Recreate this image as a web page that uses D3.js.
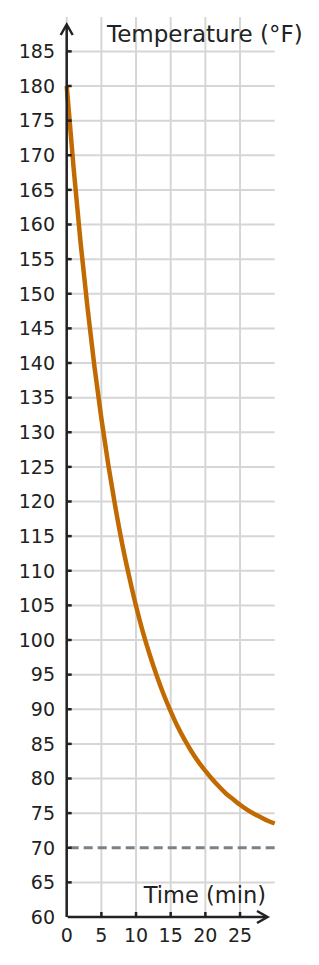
<!DOCTYPE html>
<html><head><meta charset="utf-8">
<script src="https://cdn.jsdelivr.net/npm/d3@7"></script>
<style>html,body{margin:0;padding:0;background:#fff;}svg{display:block;font-family:"DejaVu Sans",sans-serif;}</style>
</head><body>
<script>
const times = [0,1,2,3,4,5,6,7,8,9,10,11,12,13,14,15,16,17,18,19,20,21,22,23,24,25,26,27,28,29,30];
const temps = [180,168.1,157.4,148.0,139.5,132.0,125.3,119.3,113.9,109.2,104.9,101.1,97.8,94.8,92.1,89.7,87.5,85.6,83.9,82.4,81.1,79.9,78.8,77.8,77.0,76.2,75.5,74.9,74.4,73.9,73.5];
const ambient = 70;
const yTicks = [60,65,70,75,80,85,90,95,100,105,110,115,120,125,130,135,140,145,150,155,160,165,170,175,180,185];
const xTicks = [0,5,10,15,20,25];
const xTitle = "Time (min)";
const yTitle = "Temperature (°F)";

const W = 319, H = 965;
const svg = d3.select("body").append("svg").attr("width", W).attr("height", H);
const x = d3.scaleLinear().domain([0,30]).range([66.7,274.7]);
const y = d3.scaleLinear().domain([60,180]).range([917,86]);

const grid = svg.append("g").attr("stroke","#d6d6d6").attr("stroke-width",2);
grid.selectAll("line.v").data(xTicks).join("line")
  .attr("x1",d=>x(d)).attr("x2",d=>x(d)).attr("y1",17).attr("y2",y(60));
grid.selectAll("line.h").data(yTicks.filter(d=>d!==60 && d!==ambient)).join("line")
  .attr("x1",x(0)).attr("x2",x(30)).attr("y1",d=>y(d)).attr("y2",d=>y(d));

svg.append("line").attr("x1",x(0)+3).attr("x2",x(30)).attr("y1",y(ambient)).attr("y2",y(ambient))
  .attr("stroke","#78828a").attr("stroke-width",3).attr("stroke-dasharray","9,5");

const line = d3.line().x((d,i)=>x(times[i])).y(d=>y(d)).curve(d3.curveNatural);
svg.append("path").datum(temps).attr("d",line).attr("fill","none")
  .attr("stroke","#c26a02").attr("stroke-width",4.5).attr("stroke-linecap","butt");

const ax = "#222";
// axes
svg.append("line").attr("x1",x(0)).attr("x2",x(0)).attr("y1",y(60)).attr("y2",25).attr("stroke",ax).attr("stroke-width",2.5);
svg.append("path").attr("d",`M${x(0)-6},35 L${x(0)},24.5 L${x(0)+6},35`).attr("fill","none").attr("stroke",ax).attr("stroke-width",2.5);
svg.append("line").attr("x1",x(0)+1).attr("x2",267).attr("y1",y(60)).attr("y2",y(60)).attr("stroke",ax).attr("stroke-width",2.5);
svg.append("path").attr("d",`M257,${y(60)-6} L267.5,${y(60)} L257,${y(60)+6}`).attr("fill","none").attr("stroke",ax).attr("stroke-width",2.5);

// ticks
svg.append("g").selectAll("line").data(yTicks.filter(d=>d!==60)).join("line")
  .attr("x1",x(0)).attr("x2",x(0)+5).attr("y1",d=>y(d)).attr("y2",d=>y(d)).attr("stroke",ax).attr("stroke-width",2.5);
svg.append("g").selectAll("line").data(xTicks.filter(d=>d!==0)).join("line")
  .attr("x1",d=>x(d)).attr("x2",d=>x(d)).attr("y1",y(60)).attr("y2",y(60)-5).attr("stroke",ax).attr("stroke-width",2.5);

svg.append("g").selectAll("text").data(yTicks).join("text")
  .attr("x",55).attr("y",d=>y(d)).attr("dy","0.36em").attr("text-anchor","end")
  .attr("font-size",19).attr("fill",ax).text(d=>d);
svg.append("g").selectAll("text").data(xTicks).join("text")
  .attr("x",d=>x(d)).attr("y",942).attr("text-anchor","middle")
  .attr("font-size",19).attr("fill",ax).text(d=>d);

svg.append("text").attr("x",107).attr("y",42).attr("font-size",23).attr("fill",ax).text(yTitle);
svg.append("text").attr("x",266).attr("y",903).attr("text-anchor","end").attr("font-size",22.5).attr("fill",ax).text(xTitle);
</script>
</body></html>
